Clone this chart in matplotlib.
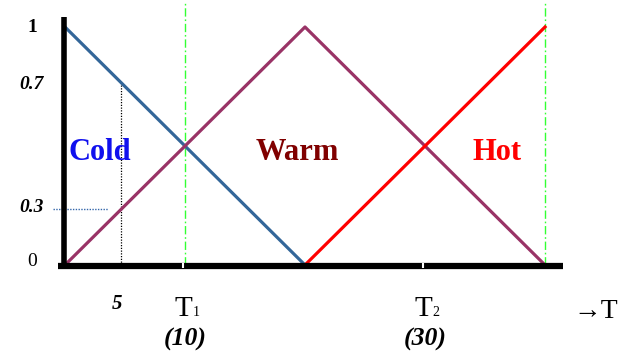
import numpy as np
import matplotlib
matplotlib.use("Agg")
import matplotlib.pyplot as plt

plt.rcParams['font.family'] = ['Liberation Serif', 'DejaVu Serif']

# ---- data ----
temps = [0, 20, 40]
cold = [1, 0, 0]
warm = [0, 1, 0]
hot = [0, 0, 1]
t_marks = [10, 30]           # T1, T2
t_names = ["T", "T"]
t_subs = ["1", "2"]
t_values = ["(10)", "(30)"]
guide_x = [10, 40]
sample_x = 4.7
y_ticks = [0, 0.24, 0.76, 1]
y_tick_labels = ["0", "0.3", "0.7", "1"]
labels = ["Cold", "Warm", "Hot"]

# pixel mapping helpers (figure 619x358, x0 px=65, 12 px/unit; y0 px=265, 238 px/unit)
W, H = 619, 358
def dx(px):
    return (px - 65) / 12.0
def dy(py):
    return (265 - py) / 238.0

fig = plt.figure(figsize=(W / 100, H / 100), dpi=100)
ax = fig.add_axes([0, 0, 1, 1])
ax.set_xlim(dx(0), dx(W))
ax.set_ylim(dy(H), dy(0))
ax.axis('off')

# guide lines
for gx in guide_x:
    ax.plot([gx, gx], [0, dy(3)], color='#33ff33', lw=1.0, ls=(0, (6, 2, 1.2, 2)), zorder=1)

# membership functions
ax.plot(temps, cold, color='#336699', lw=2.3, zorder=3, solid_capstyle='round')
ax.plot(temps, warm, color='#993366', lw=2.3, zorder=3, solid_joinstyle='round')
ax.plot(temps, hot, color='#ff0000', lw=2.3, zorder=3)

# sample dotted lines
c_s = np.interp(sample_x, temps, cold)
w_s = np.interp(sample_x, temps, warm)
ax.plot([sample_x, sample_x], [0, c_s], color='black', lw=0.9, ls=(0, (1, 1.2)), zorder=2)
ax.plot([dx(53), dx(108)], [w_s, w_s], color='#3366aa', lw=1.0, ls=(0, (1, 1)), zorder=2)

# axes
ax.plot([dx(64), dx(64)], [dy(267), dy(17)], color='black', lw=4.0, solid_capstyle='butt', zorder=4)
ax.plot([dx(58), dx(563)], [dy(265.5), dy(265.5)], color='black', lw=4.5, solid_capstyle='butt', zorder=4)
for tm in t_marks:
    ax.plot([tm - 0.15, tm - 0.15], [dy(262.5), dy(267.5)], color='white', lw=1.5, zorder=5, solid_capstyle='butt')

# y tick labels
for v, lab in zip(y_ticks, y_tick_labels):
    if lab in ("0.7", "0.3"):
        st, wt = 'italic', 'bold'
    elif lab == "1":
        st, wt = 'normal', 'bold'
    else:
        st, wt = 'normal', 'normal'
    yy = v if lab != "0" else dy(262)
    ax.text(dx(32), yy, lab, ha='center', va='center', fontsize=14, style=st, weight=wt)

# x labels
ax.text(dx(117.5), dy(304), "5", ha='center', va='center', fontsize=15, style='italic', weight='bold')
for tm, nm, sb, val in zip(t_marks, t_names, t_subs, t_values):
    ax.text(tm + dx(192) - 10, dy(309), nm, ha='right', va='center', fontsize=21)
    ax.text(tm + dx(192.5) - 10, dy(312), sb, ha='left', va='center', fontsize=10)
    ax.text(tm, dy(339), val, ha='center', va='center', fontsize=18.5, style='italic', weight='bold')
ax.text(dx(596), dy(312), "\u2192T", ha='center', va='center', fontsize=20)

# category labels
colors_txt = ['#1010ee', '#800000', '#ff0000']
lefts = [68, 256, 472]
for lab, c, lx in zip(labels, colors_txt, lefts):
    ax.text(dx(lx), dy(153), lab, ha='left', va='center', fontsize=22, weight='bold', color=c)

fig.savefig('out.png', dpi=100)
